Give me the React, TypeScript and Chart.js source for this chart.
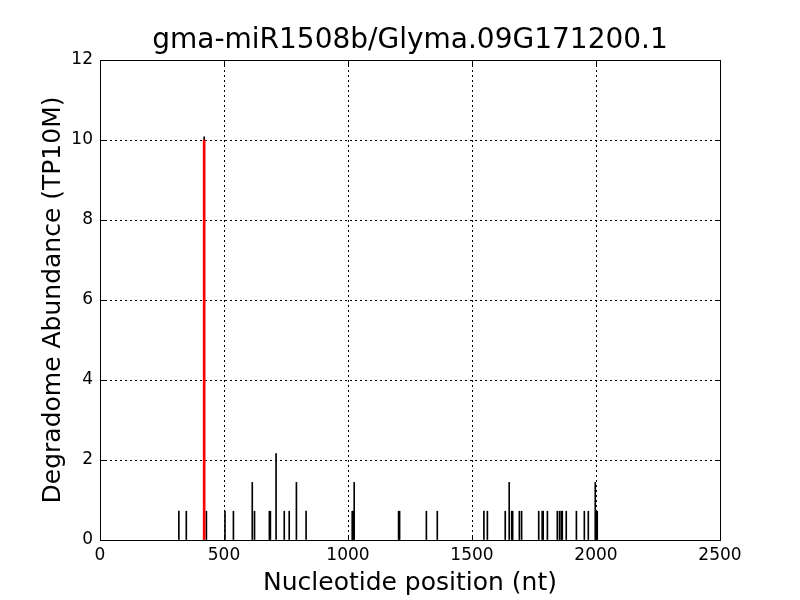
import React, { useEffect, useRef } from "react";
import { Chart, registerables } from "chart.js";

Chart.register(...registerables);

const titleText = "gma-miR1508b/Glyma.09G171200.1";
const xLabel = "Nucleotide position (nt)";
const yLabel = "Degradome Abundance (TP10M)";

const positions = [
  318, 348, 420, 429, 504, 538, 614, 623, 683, 687, 710, 743, 763, 792, 831,
  1017, 1021, 1025, 1204, 1208, 1316, 1360, 1548, 1562, 1634, 1650, 1660, 1664,
  1691, 1700, 1769, 1783, 1787, 1804, 1844, 1853, 1860, 1864, 1880, 1921, 1953,
  1969, 1997, 2001, 2005,
];
const abundances = [
  0.72, 0.72, 10.08, 0.72, 0.72, 0.72, 1.44, 0.72, 0.72, 0.72, 2.16, 0.72, 0.72,
  1.44, 0.72, 0.72, 0.72, 1.44, 0.72, 0.72, 0.72, 0.72, 0.72, 0.72, 0.72, 1.44,
  0.72, 0.72, 0.72, 0.72, 0.72, 0.72, 0.72, 0.72, 0.72, 0.72, 0.72, 0.72, 0.72,
  0.72, 0.72, 0.72, 1.44, 0.72, 0.72,
];
const sitePositions = [420];
const siteAbundances = [10];

const xTicks = [0, 500, 1000, 1500, 2000, 2500];
const yTicks = [0, 2, 4, 6, 8, 10, 12];

const boxPlugin = {
  id: "boxTicks",
  afterDraw(chart: any) {
    const { ctx, chartArea } = chart;
    const xs = chart.scales.x;
    const ys = chart.scales.y;
    const L = 5;
    ctx.save();
    ctx.strokeStyle = "#000";
    ctx.lineWidth = 1;
    ctx.setLineDash([]);
    ctx.beginPath();
    for (const t of xTicks) {
      const px = Math.round(xs.getPixelForValue(t)) + 0.5;
      ctx.moveTo(px, chartArea.bottom);
      ctx.lineTo(px, chartArea.bottom - L);
      ctx.moveTo(px, chartArea.top);
      ctx.lineTo(px, chartArea.top + L);
    }
    for (const t of yTicks) {
      const py = Math.round(ys.getPixelForValue(t)) + 0.5;
      ctx.moveTo(chartArea.left, py);
      ctx.lineTo(chartArea.left + L, py);
      ctx.moveTo(chartArea.right, py);
      ctx.lineTo(chartArea.right - L, py);
    }
    ctx.stroke();
    ctx.strokeRect(
      Math.round(chartArea.left) + 0.5,
      Math.round(chartArea.top) + 0.5,
      Math.round(chartArea.right - chartArea.left),
      Math.round(chartArea.bottom - chartArea.top)
    );
    ctx.restore();
  },
};

export default function App() {
  const ref = useRef<HTMLCanvasElement | null>(null);
  useEffect(() => {
    if (!ref.current) return;
    Chart.defaults.font.family = "'DejaVu Sans', sans-serif";
    Chart.defaults.color = "#000";
    const chart = new Chart(ref.current, {
      type: "bar",
      data: {
        datasets: [
          {
            label: "site",
            data: sitePositions.map((x, i) => ({ x, y: siteAbundances[i] })),
            backgroundColor: "#ff0000",
            barThickness: 2,
            grouped: false,
            order: 0,
          } as any,
          {
            label: "reads",
            data: positions.map((x, i) => ({ x, y: abundances[i] })),
            backgroundColor: "#000000",
            barThickness: 1,
            grouped: false,
            order: 1,
          } as any,
        ],
      },
      options: {
        animation: false,
        responsive: false,
        layout: { padding: { left: 20, right: 0, top: 0, bottom: 0 } },
        plugins: {
          legend: { display: false },
          tooltip: { enabled: false },
          title: {
            display: true,
            text: titleText,
            color: "#000",
            font: { size: 28, weight: "normal" },
            padding: { top: 24, bottom: 2.4 },
          },
        },
        scales: {
          x: {
            type: "linear",
            min: 0,
            max: 2500,
            offset: false,
            afterBuildTicks: (s: any) => {
              s.ticks = xTicks.map((v) => ({ value: v }));
            },
            afterFit: (s: any) => {
              s.height = 60;
            },
            ticks: {
              font: { size: 17 },
              color: "#000",
              padding: 5,
              maxRotation: 0,
              callback: (v: any) => String(v),
            },
            grid: { color: "#000", lineWidth: 1, drawTicks: false, offset: false },
            border: { display: false, dash: [2, 3] },
            title: {
              display: true,
              text: xLabel,
              font: { size: 25 },
              color: "#000",
              padding: { top: 0, bottom: 2 },
            },
          },
          y: {
            type: "linear",
            min: 0,
            max: 12,
            afterBuildTicks: (s: any) => {
              s.ticks = yTicks.map((v) => ({ value: v }));
            },
            afterFit: (s: any) => {
              s.width = 80;
            },
            ticks: { font: { size: 17 }, color: "#000", padding: 7, callback: (v: any) => String(v) },
            grid: { color: "#000", lineWidth: 1, drawTicks: false },
            border: { display: false, dash: [2, 3] },
            title: {
              display: true,
              text: yLabel,
              font: { size: 25 },
              color: "#000",
              padding: { top: 18, bottom: 0 },
            },
          },
          y2: {
            type: "linear",
            position: "right",
            min: 0,
            max: 12,
            afterFit: (s: any) => {
              s.width = 80;
            },
            ticks: { display: false },
            grid: { display: false, drawOnChartArea: false },
            border: { display: false },
          },
        },
      },
      plugins: [boxPlugin],
    } as any);
    return () => chart.destroy();
  }, []);
  return (
    <div style={{ position: "absolute", left: 0, top: 0, width: 800, height: 600, background: "#fff" }}>
      <canvas ref={ref} width={800} height={600} style={{ width: 800, height: 600 }} />
    </div>
  );
}
